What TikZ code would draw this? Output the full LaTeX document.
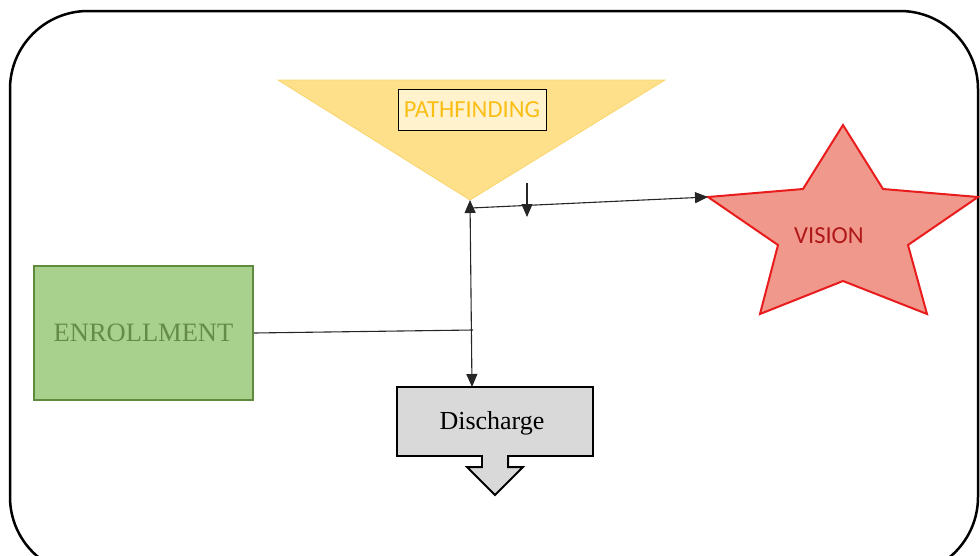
\documentclass[tikz,border=0pt]{standalone}
\usepackage{fontspec}
\setmainfont{Liberation Serif}
\newfontfamily\calib{Carlito}
\usetikzlibrary{arrows.meta}
\definecolor{triY}{RGB}{254,224,138}
\definecolor{triE}{RGB}{250,214,110}
\definecolor{pfText}{RGB}{250,190,20}
\definecolor{pfFill}{RGB}{255,242,204}
\definecolor{enrFill}{RGB}{169,209,142}
\definecolor{enrDraw}{RGB}{96,138,62}
\definecolor{enrText}{RGB}{100,140,70}
\definecolor{starFill}{RGB}{241,152,140}
\definecolor{starDraw}{RGB}{232,28,28}
\definecolor{starText}{RGB}{175,25,25}
\definecolor{disFill}{RGB}{217,217,217}
\tikzset{
  conn/.style={line width=1.1pt, draw=black!85},
  tip/.style={-{Triangle[length=13pt,width=11pt]}},
  enrbox/.style={draw=enrDraw, line width=2pt, fill=enrFill, minimum width=219pt, minimum height=134pt, inner sep=0pt, font=\fontsize{26.5}{30}\selectfont, text=enrText},
  disbox/.style={draw=black, line width=2pt, fill=disFill, minimum width=196pt, minimum height=69pt, inner sep=0pt},
  pfbox/.style={draw=black, line width=1pt, fill=pfFill, minimum width=148pt, minimum height=41pt, inner sep=0pt, font=\calib\fontsize{24.5}{28}\selectfont, text=pfText},
}
\begin{document}
\begin{tikzpicture}[x=1pt,y=-1pt]
\useasboundingbox (0,0) rectangle (980,555);
\clip (0,0) rectangle (980,555);
% outer frame
\draw[line width=2.5pt, rounded corners=78pt] (10,11) rectangle (978,575);
% triangle
\draw[fill=triY, draw=triE, line width=0.8pt] (278,80) -- (665,80) -- (470,200) -- cycle;
\coordinate (apex) at (470,200);
\node[pfbox] (pf) at (472,110) {PATHFINDING};
% star
\draw[fill=starFill, draw=starDraw, line width=2pt, line join=miter]
  (843,125) -- (883,189) -- (978,197) -- (908,245) -- (927,314) -- (843,281)
  -- (760,314) -- (778,245) -- (708,197) -- (803,189) -- cycle;
\coordinate (starL) at (708,197);
\node[font=\calib\fontsize{24.5}{28}\selectfont, text=starText] (vis) at (829,236) {VISION};
% enrollment
\node[enrbox] (enr) at (143.5,333) {ENROLLMENT};
% discharge
\node[disbox] (dis) at (495,421.5) {};
\node[font=\fontsize{26}{30}\selectfont] (distext) at (492,423) {Discharge};
\draw[fill=disFill, draw=black, line width=2pt, line join=miter]
  (482,456) -- (482,467) -- (467,467) -- (495,495) -- (523,467) -- (508,467) -- (508,456);
\fill[disFill] (483.2,452) rectangle (506.8,467.5);
% connectors
\coordinate (dtop) at (472,387);
\coordinate (jn) at (473,330);
\coordinate (j1) at (471,208);
\coordinate (sa) at (527,183);
\coordinate (sb) at (527,217);
\draw[conn, {Triangle[length=13pt,width=11pt]}-{Triangle[length=13pt,width=11pt]}] (apex) -- (dtop);
\draw[conn] (enr.east) -- (jn);
\draw[conn, tip] (j1) -- (starL);
\draw[conn, tip] (sa) -- (sb);
\end{tikzpicture}
\end{document}
